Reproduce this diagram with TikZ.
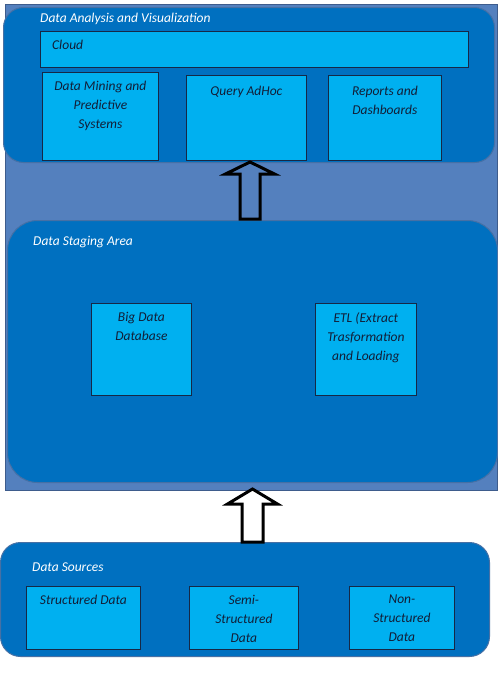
\documentclass[tikz,border=0pt]{standalone}
\usepackage{fontspec}
\setmainfont{Carlito}
\usetikzlibrary{positioning}

\definecolor{frameblue}{RGB}{84,128,190}
\definecolor{frameedge}{RGB}{62,92,140}
\definecolor{layerblue}{RGB}{0,112,192}
\definecolor{layeredge}{RGB}{70,112,165}
\definecolor{boxblue}{RGB}{0,176,240}
\definecolor{boxedge}{RGB}{22,40,70}
\definecolor{boxink}{RGB}{18,30,55}
\newcommand{\diagfont}{\fontsize{13.5}{19}\selectfont\itshape}

\begin{document}
\begin{tikzpicture}[x=1pt, y=-1pt,
	frame/.style={draw=frameedge, fill=frameblue, line width=1pt, anchor=north west, inner sep=0pt},
	layer/.style={draw=layeredge, fill=layerblue, line width=1pt, rounded corners=#1, anchor=north west, inner sep=0pt},
	box/.style={draw=boxedge, fill=boxblue, line width=0.8pt, anchor=north west, inner sep=0pt},
	boxtext/.style={anchor=north, align=center, text=boxink, font=\diagfont, inner sep=0pt, yshift=-9pt},
	title/.style={anchor=base west, text=white, font=\diagfont, inner sep=0pt},
	blockarrow/.style={draw=black, line width=#1, line join=miter}]
	\fill[white] (0,0) rectangle (498,675);
	\useasboundingbox (0,0) rectangle (498,675);

	\node[frame, minimum width=492pt, minimum height=486pt] (frame) at (5,4) {};

	\node[layer=20pt, minimum width=491pt, minimum height=155pt] (analysis) at (3,7) {};
	\node[title] (analysistitle) at (40,22) {Data Analysis and Visualization};
	\node[box, minimum width=428pt, minimum height=36pt,
		label={[boxtext, anchor=north west, xshift=12pt]north west:Cloud}] (cloud) at (40,31) {};
	\node[box, minimum width=116pt, minimum height=88pt,
		label={[boxtext]north:Data Mining and\\Predictive\\Systems}] (mining) at (42,72) {};
	\node[box, minimum width=120pt, minimum height=85pt,
		label={[boxtext, yshift=-2pt]north:Query AdHoc}] (query) at (186,75) {};
	\node[box, minimum width=113pt, minimum height=85pt,
		label={[boxtext, yshift=-2pt]north:Reports and\\Dashboards}] (reports) at (328,75) {};

	\node[layer=30pt, minimum width=490pt, minimum height=262pt] (staging) at (7,220) {};
	\node[title] (stagingtitle) at (33,245) {Data Staging Area};
	\node[box, minimum width=100pt, minimum height=92pt,
		label={[boxtext]north:Big Data\\Database}] (bigdata) at (91,303) {};
	\node[box, minimum width=101pt, minimum height=92pt,
		label={[boxtext]north:ETL (Extract\\Trasformation\\and Loading}] (etl) at (315,303) {};

	\node[layer=20pt, minimum width=489pt, minimum height=114pt] (sources) at (0,542) {};
	\node[title] (sourcestitle) at (32,571) {Data Sources};
	\node[box, minimum width=114pt, minimum height=63pt,
		label={[boxtext]north:Structured Data}] (structured) at (26,586) {};
	\node[box, minimum width=109pt, minimum height=63pt,
		label={[boxtext]north:Semi-\\Structured\\Data}] (semi) at (189,586) {};
	\node[box, minimum width=105pt, minimum height=63pt,
		label={[boxtext]north:Non-\\Structured\\Data}] (nonstruct) at (349,586) {};

	% hollow arrows between the layers
	\coordinate (tailA) at (250,219);
	\coordinate (tipA) at (250,162);
	\draw[blockarrow=3pt] (tailA) ++(-10,0) -- ++(0,-45) -- ++(-14.5,0) -- (tipA)
		-- ++(24.5,12) -- ++(-14.5,0) -- ++(0,45) -- cycle;

	\coordinate (tailB) at (252.5,542);
	\coordinate (tipB) at (252.5,489);
	\draw[blockarrow=3pt] (tailB) ++(-10.5,0) -- ++(0,-38) -- ++(-14.5,0) -- (tipB)
		-- ++(25,15) -- ++(-14.5,0) -- ++(0,38) -- cycle;
\end{tikzpicture}
\end{document}
